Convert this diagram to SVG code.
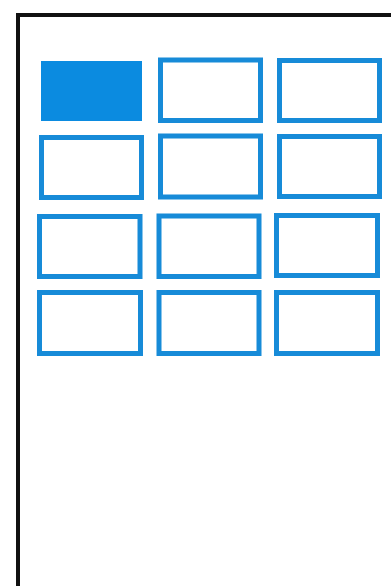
<svg xmlns="http://www.w3.org/2000/svg" width="391" height="586" viewBox="0 0 391 586">
<style>
.frame{fill:#ffffff;stroke:#111111;stroke-width:4}
.cell{fill:#ffffff;stroke:#178bd8;stroke-width:5}
.sel{fill:#0b8be0;stroke:none}
</style>
<rect x="0" y="0" width="391" height="586" fill="#ffffff"/>
<rect class="frame" x="18" y="15" width="400" height="600"/>
<g id="cell-1-1"><rect class="sel" x="41" y="61" width="101" height="60"/></g>
<g id="cell-1-2"><rect class="cell" x="160.5" y="60" width="100" height="60.5"/></g>
<g id="cell-1-3"><rect class="cell" x="279.5" y="60.5" width="100" height="60"/></g>
<g id="cell-2-1"><rect class="cell" x="41.5" y="137.5" width="100" height="60"/></g>
<g id="cell-2-2"><rect class="cell" x="160.5" y="136" width="100" height="61"/></g>
<g id="cell-2-3"><rect class="cell" x="279.5" y="136.5" width="100" height="60"/></g>
<g id="cell-3-1"><rect class="cell" x="39.5" y="216.5" width="100.5" height="60"/></g>
<g id="cell-3-2"><rect class="cell" x="159" y="216" width="100" height="60.5"/></g>
<g id="cell-3-3"><rect class="cell" x="276.5" y="215.5" width="101" height="60"/></g>
<g id="cell-4-1"><rect class="cell" x="39.5" y="292.5" width="101" height="61"/></g>
<g id="cell-4-2"><rect class="cell" x="159" y="292.5" width="100" height="61"/></g>
<g id="cell-4-3"><rect class="cell" x="276.5" y="292.5" width="101" height="61"/></g>
<g id="connectors"></g>
</svg>
